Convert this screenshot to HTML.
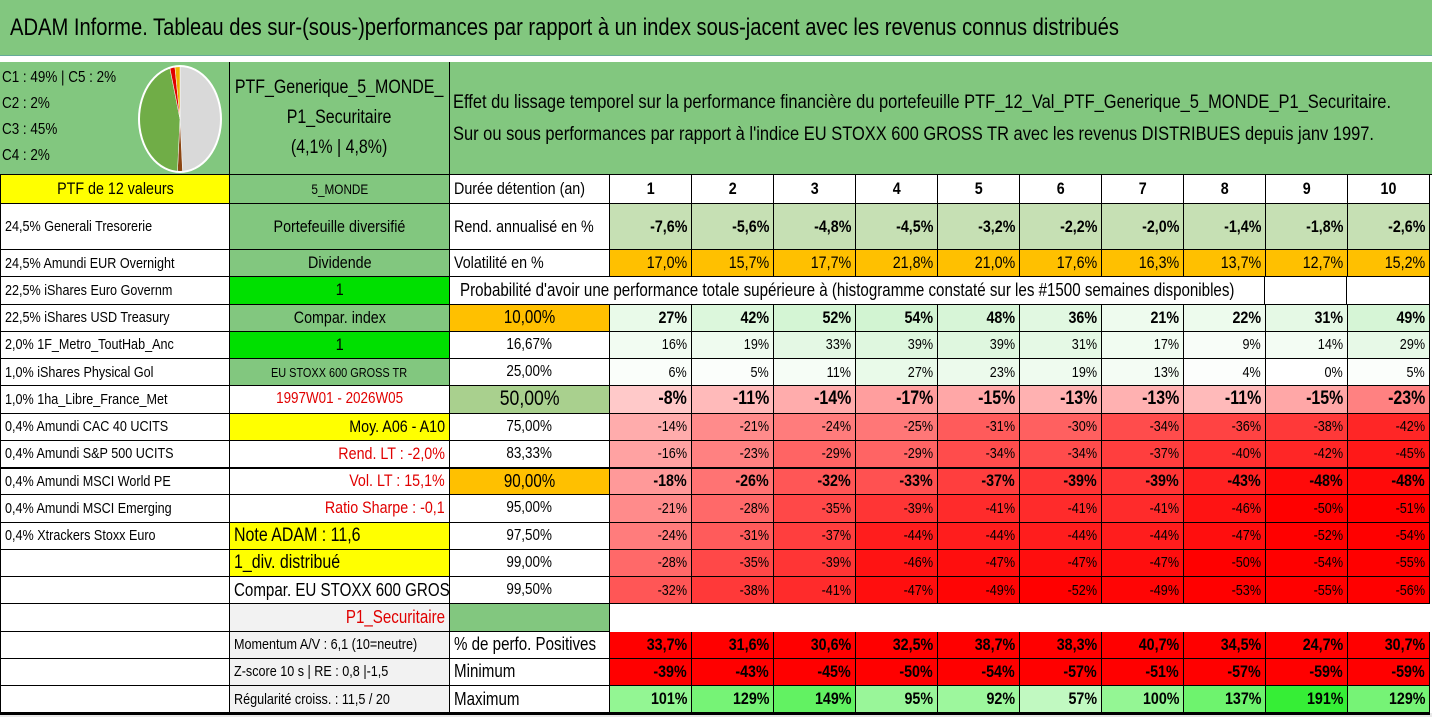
<!DOCTYPE html>
<html><head><meta charset="utf-8">
<style>
body{margin:0;width:1432px;height:717px;background:#fff;overflow:hidden;font-family:"Liberation Sans Narrow","Liberation Sans",sans-serif;color:#000;position:relative}
.c{position:absolute;box-sizing:border-box;border-right:1px solid #000;border-bottom:1px solid #000;display:flex;align-items:center;white-space:nowrap;overflow:hidden;font-size:14px;padding:0 4px}
.c>span{display:inline-block;transform:scaleX(.84);transform-origin:left center}
.ctr{justify-content:center}.ctr>span{transform-origin:center center}
.rt{justify-content:flex-end}.rt>span{transform-origin:right center}
.sx{display:inline-block;transform:scaleX(.84);transform-origin:left center}
</style></head><body>
<div style="position:absolute;left:0;top:0;width:1432px;height:55px;background:#82c77f;border-bottom:1px solid #6a9;">
<div class="sx" style="position:absolute;left:10px;top:14px;font-size:24px;white-space:nowrap">ADAM Informe. Tableau des sur-(sous-)performances par rapport à un index sous-jacent avec les revenus connus distribués</div></div>
<div style="position:absolute;left:0;top:713px;width:1432px;height:4px;background:#e8e8e8"></div>
<div id="grid"></div>
<script>
const years=["1","2","3","4","5","6","7","8","9","10"];
const rend=[-7.6,-5.6,-4.8,-4.5,-3.2,-2.2,-2.0,-1.4,-1.8,-2.6];
const vol=[17.0,15.7,17.7,21.8,21.0,17.6,16.3,13.7,12.7,15.2];
const p10=[27,42,52,54,48,36,21,22,31,49];
const p1667=[16,19,33,39,39,31,17,9,14,29];
const p25=[6,5,11,27,23,19,13,4,0,5];
const p50=[-8,-11,-14,-17,-15,-13,-13,-11,-15,-23];
const p75=[-14,-21,-24,-25,-31,-30,-34,-36,-38,-42];
const p8333=[-16,-23,-29,-29,-34,-34,-37,-40,-42,-45];
const p90=[-18,-26,-32,-33,-37,-39,-39,-43,-48,-48];
const p95=[-21,-28,-35,-39,-41,-41,-41,-46,-50,-51];
const p975=[-24,-31,-37,-44,-44,-44,-44,-47,-52,-54];
const p99=[-28,-35,-39,-46,-47,-47,-47,-50,-54,-55];
const p995=[-32,-38,-41,-47,-49,-52,-49,-53,-55,-56];
const positives=[33.7,31.6,30.6,32.5,38.7,38.3,40.7,34.5,24.7,30.7];
const minimum=[-39,-43,-45,-50,-54,-57,-51,-57,-59,-59];
const maximum=[101,129,149,95,92,57,100,137,191,129];
const pieLabels=["C1","C2","C3","C4","C5"];
const pieValues=[49,2,45,2,2];
const pieColors=["#d9d9d9","#8b4513","#70ad47","#e00000","#f0b000"];

const G=document.getElementById('grid');
const CW=82;
const rowTop=[62,175,204,250];for(let i=4;i<=21;i++)rowTop.push(250+(i-3)*27.25);
function cell(x,y,w,h,txt,cls,st,name,inter){
 const d=document.createElement('div');d.className='c '+(cls||'');
 d.style.left=x+'px';d.style.top=y+'px';d.style.width=w+'px';d.style.height=h+'px';
 if(st)d.style.cssText+=st;
 if(txt!==''){const s=document.createElement('span');s.textContent=txt;d.appendChild(s);}
 
 
 G.appendChild(d);return d;}
function fmt(v,dec){return (dec?v.toFixed(dec):String(Math.round(v))).replace('.',',')+'%';}
function red(v){const t=Math.max(0,Math.min(1,(-v-5)/45));const g=Math.round(215*(1-t));return `rgb(255,${g},${g})`;}
function grn(v){const t=Math.max(0,Math.min(1,v/60));return `rgb(${Math.round(255-50*t)},${Math.round(255-12*t)},${Math.round(255-50*t)})`;}
function grnMax(v){const t=Math.max(0,Math.min(1,(v-50)/145));return `rgb(${Math.round(200-150*t)},${Math.round(250-12*t)},${Math.round(200-150*t)})`;}
function R(i){return [rowTop[i],rowTop[i+1]-rowTop[i]];}
let [y,h]=R(0);
const hdrA=cell(0,y,230,h,'','', 'background:#82c77f;display:block;padding:0','pie-legend-cell');
hdrA.innerHTML='<div class="sx" style="position:absolute;left:2px;top:3px;font-size:16px;line-height:26px;white-space:nowrap">C1 : 49% | C5 : 2%<br>C2 : 2%<br>C3 : 45%<br>C4 : 2%</div>';
const svgNS='http://www.w3.org/2000/svg';
const svg=document.createElementNS(svgNS,'svg');svg.setAttribute('width','230');svg.setAttribute('height','113');svg.style.position='absolute';svg.style.left='0';svg.style.top='0';


hdrA.appendChild(svg);
const cx=180,cy=57,rx=41,ry=53;
const tot=pieValues.reduce((a,b)=>a+b,0);
let ang=0;
[0,1,2,3,4].forEach(k=>{const a0=ang,a1=ang+pieValues[k]/tot*2*Math.PI;ang=a1;
 const p=document.createElementNS(svgNS,'path');
 const x0=cx+rx*Math.sin(a0),y0=cy-ry*Math.cos(a0),x1=cx+rx*Math.sin(a1),y1=cy-ry*Math.cos(a1);
 p.setAttribute('d',`M${cx},${cy}L${x0},${y0}A${rx},${ry} 0 ${a1-a0>Math.PI?1:0} 1 ${x1},${y1}Z`);
 p.setAttribute('fill',pieColors[k]);p.setAttribute('stroke','#fff');p.setAttribute('stroke-width','0.5');
 
 
 svg.appendChild(p);});
const el=document.createElementNS(svgNS,'ellipse');el.setAttribute('cx',cx);el.setAttribute('cy',cy);el.setAttribute('rx',rx);el.setAttribute('ry',ry);el.setAttribute('fill','none');el.setAttribute('stroke','#fff');el.setAttribute('stroke-width','2');svg.appendChild(el);
const hb=cell(230,y,220,h,'','ctr','background:#82c77f;font-size:19px;text-align:center;line-height:30px;white-space:nowrap','portfolio-name');
hb.innerHTML='<span style="transform-origin:center center">PTF_Generique_5_MONDE_<br>P1_Securitaire<br>(4,1% | 4,8%)</span>';
const hc=cell(450,y,982,h,'','','background:#82c77f;font-size:19.6px;line-height:32px;display:block;padding:24px 0 0 3px;border-right:none','description');
hc.innerHTML="<span>Effet du lissage temporel sur la performance financière du portefeuille PTF_12_Val_PTF_Generique_5_MONDE_P1_Securitaire.<br>Sur ou sous performances par rapport à l'indice EU STOXX 600 GROSS TR avec les revenus DISTRIBUES depuis janv 1997.</span>";
const colA=["PTF de 12 valeurs","24,5% Generali Tresorerie","24,5% Amundi EUR Overnight","22,5% iShares Euro Governm","22,5% iShares USD Treasury","2,0% 1F_Metro_ToutHab_Anc","1,0% iShares Physical Gol","1,0% 1ha_Libre_France_Met","0,4% Amundi CAC 40 UCITS","0,4% Amundi S&P 500 UCITS","0,4% Amundi MSCI World PE","0,4% Amundi MSCI Emerging","0,4% Xtrackers Stoxx Euro","","","","","",""];
const colB=[
["5_MONDE","ctr","background:#82c77f;font-size:14px"],
["Portefeuille diversifié","ctr","background:#82c77f;font-size:17px"],
["Dividende","ctr","background:#82c77f;font-size:17px"],
["1","ctr","background:#00e000;font-size:17px"],
["Compar. index","ctr","background:#82c77f;font-size:17px"],
["1","ctr","background:#00e000;font-size:17px"],
["EU STOXX 600 GROSS TR","ctr","background:#82c77f;font-size:13px"],
["1997W01 - 2026W05","ctr","color:#e00000;font-size:16px"],
["Moy. A06 - A10","rt","background:#ffff00;font-size:17px"],
["Rend. LT : -2,0%","rt","color:#e00000;font-size:17px"],
["Vol. LT : 15,1%","rt","color:#e00000;font-size:17px"],
["Ratio Sharpe : -0,1","rt","color:#e00000;font-size:17px"],
["Note ADAM : 11,6","","background:#ffff00;font-size:19px"],
["1_div. distribué","","background:#ffff00;font-size:19px"],
["Compar. EU STOXX 600 GROSS TR","","font-size:18px"],
["P1_Securitaire","rt","background:#f2f2f2;color:#e00000;font-size:18px"],
["Momentum A/V : 6,1 (10=neutre)","","background:#f2f2f2;font-size:15px"],
["Z-score 10 s | RE : 0,8 |-1,5","","background:#f2f2f2;font-size:15px"],
["Régularité croiss. : 11,5 / 20","","background:#f2f2f2;font-size:15px"]];
const colC=[
["Durée détention (an)","","font-size:17px"],["Rend. annualisé en %","","font-size:17px"],["Volatilité en %","","font-size:17px"],null,
["10,00%","ctr","background:#ffc000;font-size:18px"],["16,67%","ctr","font-size:16px"],["25,00%","ctr","font-size:16px"],["50,00%","ctr","background:#a9d08e;font-size:21px"],
["75,00%","ctr","font-size:16px"],["83,33%","ctr","font-size:16px"],["90,00%","ctr","background:#ffc000;font-size:18px"],["95,00%","ctr","font-size:16px"],["97,50%","ctr","font-size:16px"],["99,00%","ctr","font-size:16px"],["99,50%","ctr","font-size:16px"],
["","","background:#82c77f"],["% de perfo. Positives","","font-size:18px"],["Minimum","","font-size:18px"],["Maximum","","font-size:18px"]];
for(let r=1;r<=19;r++){
 [y,h]=R(r);const i=r-1;
 const aSt=r==1?'background:#ffff00;font-size:17px':'font-size:15px';
 cell(0,y,230,h,colA[i],r==1?'ctr':'',aSt+';border-left:1px solid #000','holding-row-'+r);
 const b=colB[i];cell(230,y,220,h,b[0],b[1],b[2],'info-cell-'+r);
 if(colC[i])cell(450,y,160,h,colC[i][0],colC[i][1],colC[i][2],'row-label-'+r);
}
function dataRow(r,arr,f,bgf,st,name){[y,h]=R(r);arr.forEach((v,j)=>{
 cell(610+j*CW,y,CW,h,f(v),r==1?'ctr':'rt','background:'+bgf(v)+';'+st,name+'-'+(j+1));});}
dataRow(1,years,v=>v,()=>'#fff','font-weight:bold;font-size:17px','year-header');
dataRow(2,rend,v=>fmt(v,1),()=>'#c6e0b4','font-weight:bold;font-size:17px','annual-return');
dataRow(3,vol,v=>fmt(v,1),()=>'#ffc000','font-size:17px','volatility');
[y,h]=R(4);
cell(450,y,815,h,"Probabilité d'avoir une performance totale supérieure à (histogramme constaté sur les #1500 semaines disponibles)",'','font-size:18px;padding-left:10px','probability-caption');
cell(1265,y,82,h,'','','','blank-cell');cell(1347,y,83,h,'','','','blank-cell');
dataRow(5,p10,v=>fmt(v),grn,'font-weight:bold;font-size:17px','prob-10');
dataRow(6,p1667,v=>fmt(v),grn,'font-size:15px','prob-16');
dataRow(7,p25,v=>fmt(v),grn,'font-size:15px','prob-25');
dataRow(8,p50,v=>fmt(v),red,'font-weight:bold;font-size:19px','prob-50');
dataRow(9,p75,v=>fmt(v),red,'font-size:15px','prob-75');
dataRow(10,p8333,v=>fmt(v),red,'font-size:15px','prob-83');
dataRow(11,p90,v=>fmt(v),red,'font-weight:bold;font-size:17px','prob-90');
dataRow(12,p95,v=>fmt(v),red,'font-size:15px','prob-95');
dataRow(13,p975,v=>fmt(v),red,'font-size:15px','prob-97');
dataRow(14,p99,v=>fmt(v),red,'font-size:15px','prob-99');
dataRow(15,p995,v=>fmt(v),red,'font-size:15px','prob-99-5');
dataRow(17,positives,v=>fmt(v,1),()=>'#ff0000','font-weight:bold;font-size:17px','positive-share');
dataRow(18,minimum,v=>fmt(v),()=>'#ff0000','font-weight:bold;font-size:17px','minimum');
dataRow(19,maximum,v=>fmt(v),grnMax,'font-weight:bold;font-size:17px','maximum');
function hl(yy,w){const d=document.createElement('div');d.style.cssText=`position:absolute;left:0;top:${yy-1}px;width:1430px;height:${w}px;background:#000`;


G.appendChild(d);}
hl(rowTop[11],2);hl(rowTop[20],3);
</script>
</body></html>
